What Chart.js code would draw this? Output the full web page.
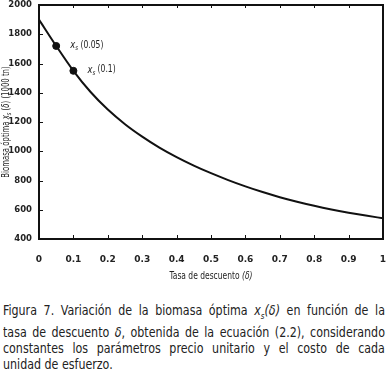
<!DOCTYPE html>
<html>
<head>
<meta charset="utf-8">
<script src="https://cdn.jsdelivr.net/npm/chart.js@4"></script>
<style>
  html, body { margin: 0; padding: 0; background: #fff; width: 388px; height: 372px; overflow: hidden; }
  #myChart { display: block; }
  #caption { position: absolute; left: 3px; top: 302px; width: 434px; transform: scaleX(0.88); transform-origin: 0 0;
             font-family: "DejaVu Sans", sans-serif; font-stretch: condensed; font-size: 14px; color: #222; }
  .cap { height: 16px; line-height: 16px; text-align: justify; text-align-last: justify; white-space: nowrap; }
  .cap.first { margin-bottom: 6px; }
  .cap.last { text-align-last: left; }
  sub { font-size: 9px; line-height: 0; }
</style>
</head>
<body>
<canvas id="myChart" width="388" height="292"></canvas>
<div id="caption">
<div class="cap first">Figura 7. Variación de la biomasa óptima <i>x<sub>s</sub>(δ)</i> en función de la</div>
<div class="cap">tasa de descuento <i>δ</i>, obtenida de la ecuación (2.2), considerando</div>
<div class="cap">constantes los parámetros precio unitario y el costo de cada</div>
<div class="cap last">unidad de esfuerzo.</div>
</div>
<script>
// tasa de descuento (delta) vs biomasa optima (1000 tn)
const deltas = [0, 0.05, 0.1, 0.15, 0.2, 0.25, 0.3, 0.35, 0.4, 0.45, 0.5,
                0.55, 0.6, 0.65, 0.7, 0.75, 0.8, 0.85, 0.9, 0.95, 1];
const biomasa = [1900, 1720, 1550, 1405, 1285, 1185, 1100, 1025, 960, 902, 850,
                 803, 760, 721, 686, 655, 627, 602, 580, 560, 542];
const markDeltas = [0.05, 0.1];
const markValues = [1720, 1550];
const markLabels = ['(0.05)', '(0.1)'];
const xTicks = [0, 0.1, 0.2, 0.3, 0.4, 0.5, 0.6, 0.7, 0.8, 0.9, 1];

const FONT = '"DejaVu Sans", sans-serif';
const ctx = document.getElementById('myChart');

// draws a run of [text, font, dy] pieces starting at x
function drawParts(c, parts, x, y) {
  parts.forEach(p => {
    c.font = p[1] + ' ' + FONT;
    c.fillText(p[0], x, y + p[2]);
    x += c.measureText(p[0]).width;
  });
  return x;
}
function partsWidth(c, parts) {
  let w = 0;
  parts.forEach(p => { c.font = p[1] + ' ' + FONT; w += c.measureText(p[0]).width; });
  return w;
}

const extras = {
  id: 'extras',
  afterDraw(chart) {
    const c = chart.ctx, a = chart.chartArea;
    const xs = chart.scales.x, ys = chart.scales.y;
    c.save();
    // frame
    c.strokeStyle = '#111';
    c.lineWidth = 2;
    c.strokeRect(a.left, a.top, a.right - a.left, a.bottom - a.top);
    // inner ticks
    c.lineWidth = 1;
    c.beginPath();
    xTicks.forEach(v => {
      const px = Math.round(xs.getPixelForValue(v)) + 0.5;
      c.moveTo(px, a.bottom); c.lineTo(px, a.bottom - 4);
      c.moveTo(px, a.top); c.lineTo(px, a.top + 3);
    });
    ys.ticks.forEach(t => {
      const py = Math.round(ys.getPixelForValue(t.value)) + 0.5;
      c.moveTo(a.left, py); c.lineTo(a.left + 4, py);
    });
    c.stroke();
    c.fillStyle = '#222';
    c.textBaseline = 'middle';
    c.textAlign = 'left';
    // point labels
    markDeltas.forEach((d, i) => {
      const px = xs.getPixelForValue(d) + 14;
      const py = ys.getPixelForValue(markValues[i]) - 1;
      c.save();
      c.translate(px, py);
      c.scale(0.85, 1);
      drawParts(c, [
        ['x', 'italic condensed 11px', 0],
        ['s', 'italic condensed 7px', 3],
        [' ' + markLabels[i], 'condensed 10px', 0]
      ], 0, 0);
      c.restore();
    });
    // x axis title
    const xt = [
      ['Tasa de descuento ', 'condensed 10px', 0],
      ['(δ)', 'italic condensed 10px', 0]
    ];
    c.save();
    c.translate((a.left + a.right) / 2, 276);
    c.scale(0.84, 1);
    drawParts(c, xt, -partsWidth(c, xt) / 2, 0);
    c.restore();
    // y axis title (rotated)
    const yt = [
      ['Biomasa óptima ', 'condensed 10px', 0],
      ['x', 'italic condensed 10px', 0],
      ['s', 'italic condensed 7px', 3],
      [' (', 'condensed 10px', 0],
      ['δ', 'italic condensed 10px', 0],
      [') (1000 tn)', 'condensed 10px', 0]
    ];
    c.save();
    c.translate(6, (a.top + a.bottom) / 2);
    c.rotate(-Math.PI / 2);
    c.scale(0.77, 1);
    drawParts(c, yt, -partsWidth(c, yt) / 2, 0);
    c.restore();
    c.restore();
  }
};

new Chart(ctx, {
  type: 'line',
  data: {
    datasets: [{
      label: 'biomasa',
      data: deltas.map((d, i) => ({ x: d, y: biomasa[i] })),
      borderColor: '#111',
      borderWidth: 2,
      pointRadius: 0,
      tension: 0.4,
      cubicInterpolationMode: 'monotone',
      fill: false
    }, {
      label: 'marcas',
      data: markDeltas.map((d, i) => ({ x: d, y: markValues[i] })),
      showLine: false,
      pointRadius: 3.5,
      pointBackgroundColor: '#111',
      pointBorderColor: '#111'
    }]
  },
  options: {
    responsive: false,
    animation: false,
    layout: { padding: { top: 0, right: 0, left: 0, bottom: 0 } },
    plugins: { legend: { display: false }, tooltip: { enabled: false } },
    scales: {
      x: {
        type: 'linear',
        min: 0, max: 1,
        afterBuildTicks: (s) => { s.ticks = xTicks.map(v => ({ value: v })); },
        afterFit: (s) => { s.height = 53; },
        grid: { display: false, drawTicks: true, tickLength: 14 },
        border: { display: false },
        ticks: {
          padding: 1,
          color: '#222',
          font: { family: FONT, size: 9, weight: 'bold', style: 'condensed' },
          callback: (v) => String(v)
        }
      },
      y: {
        min: 400, max: 2000,
        afterFit: (s) => { s.width = 39; },
        grid: { display: false, drawTicks: true, tickLength: 7 },
        border: { display: false },
        ticks: {
          stepSize: 200,
          padding: 0,
          color: '#222',
          font: { family: FONT, size: 8.5, weight: 'bold', style: 'condensed', lineHeight: 1 },
          callback: (v) => String(v)
        }
      }
    }
  },
  plugins: [extras]
});
</script>
</body>
</html>
